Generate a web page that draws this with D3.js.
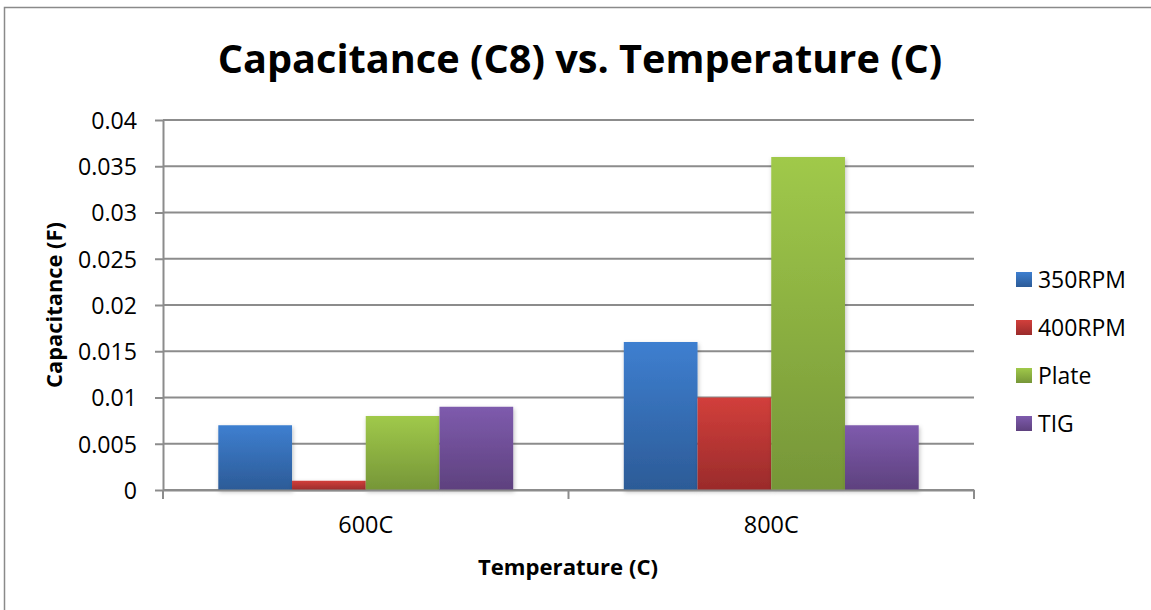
<!DOCTYPE html>
<html>
<head>
<meta charset="utf-8">
<script src="https://cdn.jsdelivr.net/npm/d3@7"></script>
<style>
  html, body { margin: 0; padding: 0; background: #fff; }
  svg { display: block; font-family: "Open Sans", Lato, sans-serif; }
</style>
</head>
<body>
<svg id="chart" width="1151" height="610"></svg>
<script>
// Chart data
const categories = ["600C", "800C"];
const seriesNames = ["350RPM", "400RPM", "Plate", "TIG"];
const val350RPM = [0.007, 0.016];
const val400RPM = [0.001, 0.010];
const valPlate  = [0.008, 0.036];
const valTIG    = [0.009, 0.007];
const yTicks = [0, 0.005, 0.01, 0.015, 0.02, 0.025, 0.03, 0.035, 0.04];
const yTickLabels = ["0", "0.005", "0.01", "0.015", "0.02", "0.025", "0.03", "0.035", "0.04"];

const seriesValues = [val350RPM, val400RPM, valPlate, valTIG];
const colors = [
  { top: "#3e7fd0", bot: "#2c5b97" },
  { top: "#d23f3b", bot: "#9a2b2b" },
  { top: "#a0c94a", bot: "#769638" },
  { top: "#7e5bad", bot: "#5e417e" }
];

const svg = d3.select("#chart");

// Scale a text selection's font size so its rendered width equals `w`
function fitWidth(sel, w) {
  sel.attr("font-size", 20);
  const len = sel.node().getComputedTextLength();
  const size = 20 * w / len;
  sel.attr("font-size", size);
  return size;
}

const defs = svg.append("defs");
colors.forEach((c, i) => {
  const g = defs.append("linearGradient").attr("id", "grad" + i)
    .attr("x1", 0).attr("y1", 0).attr("x2", 0).attr("y2", 1);
  g.append("stop").attr("offset", "0%").attr("stop-color", c.top);
  g.append("stop").attr("offset", "100%").attr("stop-color", c.bot);
});
const f = defs.append("filter").attr("id", "shadow")
  .attr("x", "-20%").attr("y", "-20%").attr("width", "140%").attr("height", "140%");
f.append("feDropShadow").attr("dx", 1).attr("dy", 2).attr("stdDeviation", 2)
  .attr("flood-color", "#000").attr("flood-opacity", 0.25);

// Outer frame
svg.append("rect").attr("x", 4.5).attr("y", 7.5).attr("width", 1160).attr("height", 620)
  .attr("fill", "none").attr("stroke", "#8a8a8a").attr("stroke-width", 1.5);

const plot = { left: 163, right: 974, top: 120, bottom: 490 };

const x0 = d3.scaleBand().domain(categories)
  .range([plot.left, plot.right]).paddingInner(0).paddingOuter(0);
const innerPad = 1.5 / 5.5; // gap width 150% of a bar
const x1 = d3.scaleBand().domain(seriesNames)
  .range([x0.bandwidth() * innerPad / 2, x0.bandwidth() * (1 - innerPad / 2)]);
const y = d3.scaleLinear().domain([0, 0.04]).range([plot.bottom, plot.top]);

// Gridlines
svg.append("g").selectAll("line").data(yTicks).join("line")
  .attr("x1", plot.left).attr("x2", plot.right)
  .attr("y1", d => y(d)).attr("y2", d => y(d))
  .attr("stroke", "#8c8c8c").attr("stroke-width", 2);

// Y axis
const yAxis = d3.axisLeft(y).tickValues(yTicks)
  .tickFormat((d, i) => yTickLabels[i]).tickSize(8).tickSizeOuter(0);
const gy = svg.append("g").attr("transform", `translate(${plot.left},0)`).call(yAxis);
gy.select(".domain").attr("stroke", "#8c8c8c").attr("stroke-width", 2);
gy.selectAll(".tick line").attr("stroke", "#8c8c8c").attr("stroke-width", 2);
const yText = gy.selectAll(".tick text").attr("fill", "#000")
  .attr("font-family", "'Open Sans', sans-serif").attr("x", -26).attr("dy", "0.36em");
const yTickSize = fitWidth(yText.filter(d => d === 0.025), 59);
yText.attr("font-size", yTickSize);

// Bars
const groups = svg.append("g").selectAll("g").data(categories).join("g")
  .attr("transform", d => `translate(${x0(d)},0)`);
groups.selectAll("rect")
  .data((c, ci) => seriesNames.map((s, si) => ({ s, si, v: seriesValues[si][ci] })))
  .join("rect")
  .attr("x", d => x1(d.s))
  .attr("width", x1.bandwidth())
  .attr("y", d => y(d.v))
  .attr("height", d => y(0) - y(d.v))
  .attr("fill", d => `url(#grad${d.si})`)
  .attr("filter", "url(#shadow)");

// X axis
const xAxis = d3.axisBottom(x0).tickSize(0).tickSizeOuter(0);
const gx = svg.append("g").attr("transform", `translate(0,${plot.bottom})`).call(xAxis);
gx.select(".domain").attr("stroke", "#8c8c8c").attr("stroke-width", 2);
const xText = gx.selectAll(".tick text").attr("fill", "#000")
  .attr("font-family", "'Open Sans', sans-serif").attr("dy", 0).attr("y", 43);
const xTickSize = fitWidth(xText.filter((d, i) => i === 0), 55);
xText.attr("font-size", xTickSize);
// category boundary tick marks
const boundaries = [plot.left, x0(categories[1]), plot.right];
svg.append("g").selectAll("line").data(boundaries).join("line")
  .attr("x1", d => d).attr("x2", d => d)
  .attr("y1", plot.bottom).attr("y2", plot.bottom + 9)
  .attr("stroke", "#8c8c8c").attr("stroke-width", 2);

// Title
const title = svg.append("text").attr("x", 580).attr("y", 73).attr("text-anchor", "middle")
  .attr("font-weight", "bold").attr("fill", "#000")
  .text("Capacitance (C8) vs. Temperature (C)");
fitWidth(title, 725);

// Axis titles
const yTitle = svg.append("text").attr("transform", `translate(62,305) rotate(-90)`)
  .attr("text-anchor", "middle").attr("font-weight", "bold")
  .attr("fill", "#000").text("Capacitance (F)");
fitWidth(yTitle, 166);
const xTitle = svg.append("text").attr("x", 568).attr("y", 575).attr("text-anchor", "middle")
  .attr("font-weight", "bold").attr("fill", "#000")
  .text("Temperature (C)");
fitWidth(xTitle, 180);

// Legend
const legend = svg.append("g").selectAll("g").data(seriesNames).join("g")
  .attr("transform", (d, i) => `translate(1016,${280 + i * 48})`);
legend.append("rect").attr("x", 0).attr("y", -8).attr("width", 16).attr("height", 15)
  .attr("fill", (d, i) => `url(#grad${i})`);
const legText = legend.append("text").attr("x", 22).attr("y", 0).attr("dy", "0.36em")
  .attr("fill", "#000").text(d => d);
const legSize = fitWidth(legText.filter((d, i) => i === 0), 88);
legText.attr("font-size", legSize);
</script>
</body>
</html>
